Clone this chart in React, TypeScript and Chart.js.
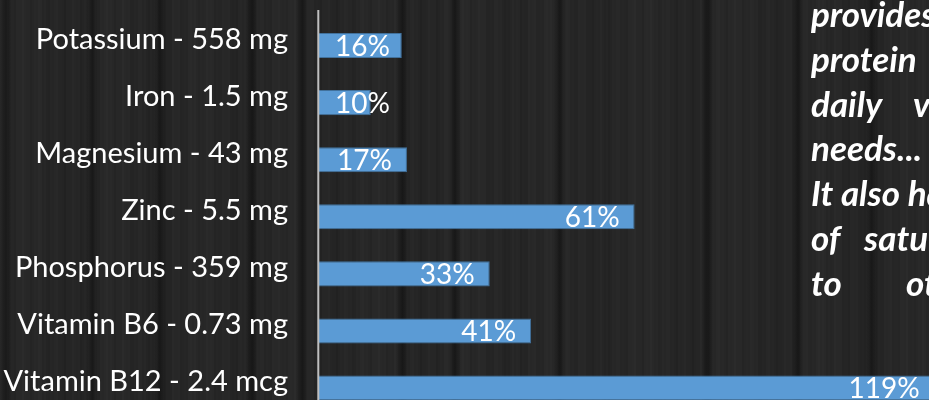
import React, { useEffect, useRef } from "react";
import { Chart, registerables } from "chart.js";

Chart.register(...registerables);

const categories = [
  "Potassium - 558 mg",
  "Iron - 1.5 mg",
  "Magnesium - 43 mg",
  "Zinc - 5.5 mg",
  "Phosphorus - 359 mg",
  "Vitamin B6 - 0.73 mg",
  "Vitamin B12 - 2.4 mcg",
];
const dailyValuePct = [16, 10, 17, 61, 33, 41, 119];

// Side note (cut off at the right edge in the original)
const sideNoteLines: string[][] = [
  ["provides"],
  ["protein"],
  ["daily", "value"],
  ["needs..."],
  ["It also has"],
  ["of", "saturated"],
  ["to", "other"],
];
const sideNoteSecondWordX = [0, 0, 913, 0, 0, 864, 906];

const seams = [6, 92, 160, 252, 302, 402, 455, 560, 707, 798, 872];

const LABEL_FONT = "Lato";

const backgroundPlugin = {
  id: "woodBg",
  beforeDraw(chart: any) {
    const { ctx, width, height } = chart;
    ctx.save();
    ctx.fillStyle = "#262626";
    ctx.fillRect(0, 0, width, height);
    // fine vertical grain
    for (let x = 0; x < width; x += 2) {
      const g = Math.round(
        38 + 4 * Math.sin(x * 0.37) + 3 * Math.sin(x * 1.13 + 1.7) + 3 * Math.sin(x * 0.071)
      );
      ctx.fillStyle = `rgba(${g},${g},${g},0.5)`;
      ctx.fillRect(x, 0, 2, height);
    }
    // dark seams between boards
    for (const s of seams) {
      const grd = ctx.createLinearGradient(s - 6, 0, s + 6, 0);
      grd.addColorStop(0, "rgba(10,10,10,0)");
      grd.addColorStop(0.5, "rgba(10,10,10,0.5)");
      grd.addColorStop(1, "rgba(10,10,10,0)");
      ctx.fillStyle = grd;
      ctx.fillRect(s - 6, 0, 12, height);
    }
    ctx.restore();
  },
};

const overlayPlugin = {
  id: "overlay",
  afterDatasetsDraw(chart: any) {
    const { ctx, chartArea } = chart;
    ctx.save();
    // axis line
    ctx.strokeStyle = "#bfbfbf";
    ctx.lineWidth = 2;
    ctx.beginPath();
    ctx.moveTo(chartArea.left - 0.7, 10);
    ctx.lineTo(chartArea.left - 0.7, chart.height);
    ctx.stroke();

    // data labels
    const meta = chart.getDatasetMeta(0);
    ctx.font = `28px ${LABEL_FONT}`;
    ctx.fillStyle = "#ffffff";
    ctx.textBaseline = "middle";
    ctx.textAlign = "left";
    meta.data.forEach((el: any, i: number) => {
      const txt = `${dailyValuePct[i]}%`;
      const w = ctx.measureText(txt).width;
      const right = el.x - 15;
      const left = Math.max(right - w, chartArea.left + 16);
      ctx.fillText(txt, left, el.y + 1);
    });

    // side note
    ctx.font = `italic bold 35px ${LABEL_FONT}`;
    ctx.textBaseline = "alphabetic";
    sideNoteLines.forEach((words, i) => {
      const y = 27 + i * 44.8;
      ctx.fillText(words[0], 811, y);
      if (words[1]) ctx.fillText(words[1], sideNoteSecondWordX[i], y);
    });
    ctx.restore();
  },
};

export default function App() {
  const ref = useRef<HTMLCanvasElement | null>(null);

  useEffect(() => {
    document.body.style.margin = "0";
    document.body.style.overflow = "hidden";
    let chart: Chart | null = null;
    let cancelled = false;
    const make = () => {
      if (cancelled || !ref.current) return;
      chart = new Chart(ref.current, {
        type: "bar",
        data: {
          labels: categories,
          datasets: [
            {
              data: dailyValuePct,
              backgroundColor: "#5b9bd5",
              borderColor: "#41719c",
              borderWidth: 1,
              barPercentage: 0.44,
              categoryPercentage: 1,
            },
          ],
        },
        options: {
          indexAxis: "y",
          responsive: false,
          animation: false,
          layout: { padding: { top: 17, bottom: 13.4, left: 0, right: 8.4 } },
          plugins: { legend: { display: false }, tooltip: { enabled: false } },
          scales: {
            x: { type: "linear", min: 0, max: 130, display: false },
            y: {
              type: "category",
              grid: { display: false, drawTicks: false },
              border: { display: false },
              ticks: {
                color: "#ffffff",
                font: { family: LABEL_FONT, size: 29 },
                padding: 31,
                labelOffset: -6,
              },
              afterFit(scale: any) {
                scale.width = 319;
                scale.paddingTop = 0;
                scale.paddingBottom = 0;
              },
            },
          },
        },
        plugins: [backgroundPlugin, overlayPlugin],
      });
    };
    const fonts = (document as any).fonts;
    if (fonts && fonts.load) {
      Promise.all([
        fonts.load(`29px ${LABEL_FONT}`),
        fonts.load(`italic bold 35px ${LABEL_FONT}`),
      ])
        .catch(() => {})
        .then(make);
    } else {
      make();
    }
    return () => {
      cancelled = true;
      if (chart) chart.destroy();
    };
  }, []);

  return (
    <div style={{ width: 929, height: 400, overflow: "hidden", position: "relative" }}>
      <canvas ref={ref} width={1000} height={430} style={{ display: "block" }} />
    </div>
  );
}
